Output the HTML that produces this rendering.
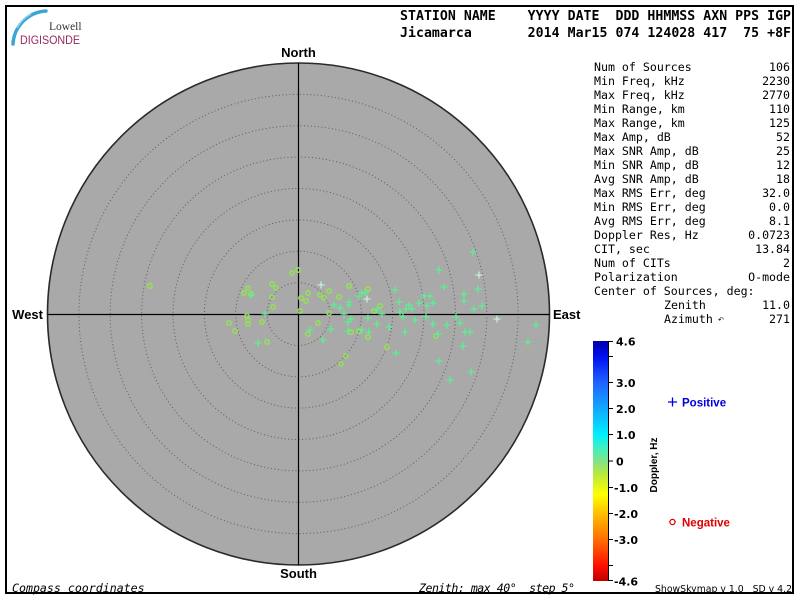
<!DOCTYPE html>
<html><head><meta charset="utf-8"><style>
html,body{margin:0;padding:0;background:#fff;width:800px;height:600px;overflow:hidden}
svg{display:block}
.mono{font-family:"DejaVu Sans Mono","Liberation Mono",monospace}
</style></head><body>
<svg width="800" height="600" viewBox="0 0 800 600" xmlns="http://www.w3.org/2000/svg">
<defs>
<linearGradient id="cb" x1="0" y1="0" x2="0" y2="1">
<stop offset="0" stop-color="#0000a8"/>
<stop offset="0.065" stop-color="#0010f0"/>
<stop offset="0.174" stop-color="#2064ff"/>
<stop offset="0.283" stop-color="#10aaff"/>
<stop offset="0.391" stop-color="#00f0ff"/>
<stop offset="0.446" stop-color="#40f0c0"/>
<stop offset="0.5" stop-color="#80e488"/>
<stop offset="0.554" stop-color="#b8e840"/>
<stop offset="0.64" stop-color="#ffff00"/>
<stop offset="0.717" stop-color="#ffc000"/>
<stop offset="0.826" stop-color="#ff7000"/>
<stop offset="0.935" stop-color="#ff1000"/>
<stop offset="1" stop-color="#c00000"/>
</linearGradient>
<path id="p" d="M-3.5,0H3.5M0,-3.5V3.5" stroke="#5cf090" stroke-width="1.3" fill="none"/>
<path id="q" d="M-3.5,0H3.5M0,-3.5V3.5" stroke="#c8eed8" stroke-width="1.3" fill="none"/>
<circle id="o" r="2.2" fill="none" stroke="#94e05a" stroke-width="1.5"/>
</defs>

<!-- frame -->
<rect x="6" y="6" width="787" height="587" fill="none" stroke="#000" stroke-width="2"/>

<!-- logo -->
<path d="M13,44 A35,35 0 0 1 46,11" fill="none" stroke="#3aa6d6" stroke-width="3.5" stroke-linecap="round"/>
<path d="M17,28 A35,35 0 0 1 31,14" fill="none" stroke="#8ccfea" stroke-width="1.5"/>
<text x="49" y="30" font-family="Liberation Serif, serif" font-size="11.5" fill="#333">Lowell</text>
<text x="20" y="44" font-family="Liberation Sans, sans-serif" font-size="11.5" fill="#952a5c" textLength="60" lengthAdjust="spacingAndGlyphs">DIGISONDE</text>

<!-- header -->
<text class="mono" x="400" y="20" font-size="13.2" font-weight="bold" xml:space="preserve" textLength="391" lengthAdjust="spacing">STATION NAME    YYYY DATE  DDD HHMMSS AXN PPS IGP</text>
<text class="mono" x="400" y="37" font-size="13.2" font-weight="bold" xml:space="preserve" textLength="391" lengthAdjust="spacing">Jicamarca       2014 Mar15 074 124028 417  75 +8F</text>

<!-- skymap -->
<circle cx="298.5" cy="314" r="251" fill="#a9a9a9" stroke="#2a2a2a" stroke-width="1.6"/>
<g fill="none" stroke="#5e5e5e" stroke-width="1" stroke-dasharray="1 2.5">
<circle cx="298.5" cy="314" r="31.4"/>
<circle cx="298.5" cy="314" r="62.8"/>
<circle cx="298.5" cy="314" r="94.1"/>
<circle cx="298.5" cy="314" r="125.5"/>
<circle cx="298.5" cy="314" r="156.9"/>
<circle cx="298.5" cy="314" r="188.3"/>
<circle cx="298.5" cy="314" r="219.6"/>
</g>
<line x1="298.5" y1="63" x2="298.5" y2="565" stroke="#000" stroke-width="1.2"/>
<line x1="47.5" y1="314.5" x2="549.5" y2="314.5" stroke="#000" stroke-width="1.2"/>

<g font-family="Liberation Sans, sans-serif" font-weight="bold" font-size="13">
<text x="298.5" y="57" text-anchor="middle">North</text>
<text x="298.5" y="578" text-anchor="middle">South</text>
<text x="43" y="319" text-anchor="end">West</text>
<text x="553" y="319">East</text>
</g>

<!-- circles (negative doppler) -->
<g>
<use href="#o" x="292" y="273"/><use href="#o" x="298" y="270"/><use href="#o" x="272" y="284"/><use href="#o" x="276" y="288"/>
<use href="#o" x="248" y="288"/><use href="#o" x="244" y="293"/><use href="#o" x="251" y="294"/><use href="#o" x="272" y="297"/>
<use href="#o" x="273" y="307"/><use href="#o" x="308" y="293"/><use href="#o" x="301" y="298"/><use href="#o" x="306" y="301"/>
<use href="#o" x="320" y="295"/><use href="#o" x="324" y="298"/><use href="#o" x="329" y="291"/><use href="#o" x="339" y="297"/>
<use href="#o" x="349" y="286"/><use href="#o" x="300" y="311"/><use href="#o" x="329" y="313"/><use href="#o" x="247" y="316"/>
<use href="#o" x="248" y="320"/><use href="#o" x="248" y="324"/><use href="#o" x="229" y="323"/><use href="#o" x="262" y="322"/>
<use href="#o" x="235" y="331"/><use href="#o" x="318" y="323"/><use href="#o" x="308" y="334"/><use href="#o" x="267" y="342"/>
<use href="#o" x="346" y="356"/><use href="#o" x="341" y="364"/><use href="#o" x="368" y="289"/><use href="#o" x="380" y="306"/>
<use href="#o" x="374" y="311"/><use href="#o" x="359" y="331"/><use href="#o" x="351" y="332"/><use href="#o" x="368" y="337"/>
<use href="#o" x="387" y="347"/><use href="#o" x="436" y="336"/><use href="#o" x="150" y="286"/>
</g>
<!-- pluses (positive doppler) -->
<g>
<use href="#q" x="321" y="285"/><use href="#p" x="251" y="295"/><use href="#p" x="334" y="305"/><use href="#p" x="340" y="308"/>
<use href="#p" x="349" y="302"/><use href="#p" x="349" y="305"/><use href="#p" x="344" y="314"/><use href="#p" x="265" y="314"/>
<use href="#p" x="348" y="322"/><use href="#p" x="348" y="331"/><use href="#p" x="310" y="330"/><use href="#p" x="331" y="329"/>
<use href="#p" x="323" y="340"/><use href="#p" x="258" y="343"/><use href="#p" x="473" y="252"/><use href="#p" x="439" y="270"/>
<use href="#q" x="479" y="275"/><use href="#p" x="395" y="290"/><use href="#p" x="444" y="287"/><use href="#p" x="478" y="289"/>
<use href="#p" x="464" y="294"/><use href="#p" x="464" y="301"/><use href="#p" x="359" y="296"/><use href="#p" x="362" y="293"/>
<use href="#p" x="365" y="293"/><use href="#q" x="367" y="299"/><use href="#p" x="399" y="302"/><use href="#p" x="409" y="305"/>
<use href="#p" x="406" y="309"/><use href="#p" x="412" y="309"/><use href="#p" x="419" y="303"/><use href="#p" x="424" y="296"/>
<use href="#p" x="430" y="296"/><use href="#p" x="433" y="303"/><use href="#p" x="427" y="306"/><use href="#p" x="474" y="309"/>
<use href="#p" x="482" y="306"/><use href="#p" x="377" y="310"/><use href="#p" x="382" y="314"/><use href="#p" x="400" y="312"/>
<use href="#p" x="351" y="319"/><use href="#p" x="368" y="318"/><use href="#p" x="403" y="317"/><use href="#p" x="415" y="320"/>
<use href="#p" x="426" y="317"/><use href="#p" x="456" y="317"/><use href="#p" x="460" y="323"/><use href="#q" x="497" y="319"/>
<use href="#p" x="377" y="324"/><use href="#p" x="389" y="327"/><use href="#p" x="433" y="324"/><use href="#p" x="447" y="325"/>
<use href="#p" x="536" y="325"/><use href="#p" x="362" y="330"/><use href="#p" x="369" y="332"/><use href="#p" x="405" y="332"/>
<use href="#p" x="465" y="332"/><use href="#p" x="470" y="332"/><use href="#p" x="438" y="334"/><use href="#p" x="463" y="346"/>
<use href="#p" x="528" y="342"/><use href="#p" x="396" y="353"/><use href="#p" x="439" y="361"/><use href="#p" x="471" y="372"/>
<use href="#p" x="450" y="380"/>
</g>

<!-- stats panel -->
<g class="mono" font-size="11.6" fill="#000">
<text x="594" y="71">Num of Sources</text><text x="790" y="71" text-anchor="end">106</text>
<text x="594" y="85">Min Freq, kHz</text><text x="790" y="85" text-anchor="end">2230</text>
<text x="594" y="99">Max Freq, kHz</text><text x="790" y="99" text-anchor="end">2770</text>
<text x="594" y="113">Min Range, km</text><text x="790" y="113" text-anchor="end">110</text>
<text x="594" y="127">Max Range, km</text><text x="790" y="127" text-anchor="end">125</text>
<text x="594" y="141">Max Amp, dB</text><text x="790" y="141" text-anchor="end">52</text>
<text x="594" y="155">Max SNR Amp, dB</text><text x="790" y="155" text-anchor="end">25</text>
<text x="594" y="169">Min SNR Amp, dB</text><text x="790" y="169" text-anchor="end">12</text>
<text x="594" y="183">Avg SNR Amp, dB</text><text x="790" y="183" text-anchor="end">18</text>
<text x="594" y="197">Max RMS Err, deg</text><text x="790" y="197" text-anchor="end">32.0</text>
<text x="594" y="211">Min RMS Err, deg</text><text x="790" y="211" text-anchor="end">0.0</text>
<text x="594" y="225">Avg RMS Err, deg</text><text x="790" y="225" text-anchor="end">8.1</text>
<text x="594" y="239">Doppler Res, Hz</text><text x="790" y="239" text-anchor="end">0.0723</text>
<text x="594" y="253">CIT, sec</text><text x="790" y="253" text-anchor="end">13.84</text>
<text x="594" y="267">Num of CITs</text><text x="790" y="267" text-anchor="end">2</text>
<text x="594" y="281">Polarization</text><text x="790" y="281" text-anchor="end">O-mode</text>
<text x="594" y="295">Center of Sources, deg:</text>
<text x="664" y="309">Zenith</text><text x="790" y="309" text-anchor="end">11.0</text>
<text x="664" y="323">Azimuth</text><text x="790" y="323" text-anchor="end">271</text>
</g>
<text x="718" y="322" font-family="DejaVu Sans, sans-serif" font-size="7" fill="#000">↶</text>

<!-- colorbar -->
<rect x="593" y="341" width="15" height="240" fill="url(#cb)"/>
<line x1="608.5" y1="341" x2="608.5" y2="581" stroke="#000" stroke-width="1"/>
<g stroke="#000" stroke-width="1">
<line x1="608" y1="341.5" x2="613" y2="341.5"/>
<line x1="608" y1="356.5" x2="613" y2="356.5"/>
<line x1="608" y1="382.5" x2="613" y2="382.5"/>
<line x1="608" y1="408.5" x2="613" y2="408.5"/>
<line x1="608" y1="434.5" x2="613" y2="434.5"/>
<line x1="608" y1="461" x2="613" y2="461"/>
<line x1="608" y1="487.5" x2="613" y2="487.5"/>
<line x1="608" y1="513.5" x2="613" y2="513.5"/>
<line x1="608" y1="539.5" x2="613" y2="539.5"/>
<line x1="608" y1="565.5" x2="613" y2="565.5"/>
<line x1="608" y1="580.5" x2="613" y2="580.5"/>
</g>
<g font-family="DejaVu Sans, sans-serif" font-weight="bold" font-size="11" fill="#000">
<text x="616" y="345.5">4.6</text>
<text x="616" y="387">3.0</text>
<text x="616" y="413">2.0</text>
<text x="616" y="439">1.0</text>
<text x="616" y="465.5">0</text>
<text x="614" y="492">-1.0</text>
<text x="614" y="518">-2.0</text>
<text x="614" y="544">-3.0</text>
<text x="614" y="585.5">-4.6</text>
</g>
<text transform="translate(657,465) rotate(-90)" text-anchor="middle" font-family="Liberation Sans, sans-serif" font-weight="bold" font-size="10">Doppler, Hz</text>

<!-- legend -->
<path d="M668,402H677M672.5,397.5V406.5" stroke="#0000e0" stroke-width="1.3"/>
<text x="682" y="406.5" font-family="Liberation Sans, sans-serif" font-weight="bold" font-size="11.5" fill="#0000e0">Positive</text>
<circle cx="672.5" cy="522" r="2.6" fill="none" stroke="#e00000" stroke-width="1.3"/>
<text x="682" y="526.5" font-family="Liberation Sans, sans-serif" font-weight="bold" font-size="11.5" fill="#e00000">Negative</text>

<!-- footer -->
<text class="mono" x="12" y="592" font-size="11.6" font-style="italic">Compass coordinates</text>
<text class="mono" x="419" y="592" font-size="11.6" font-style="italic" xml:space="preserve" textLength="156" lengthAdjust="spacing">Zenith: max 40°  step 5°</text>
<text x="655" y="592" font-family="DejaVu Sans, sans-serif" font-size="9.5" xml:space="preserve" textLength="137" lengthAdjust="spacingAndGlyphs">ShowSkymap v 1.0   SD v 4.2</text>
</svg>
</body></html>
